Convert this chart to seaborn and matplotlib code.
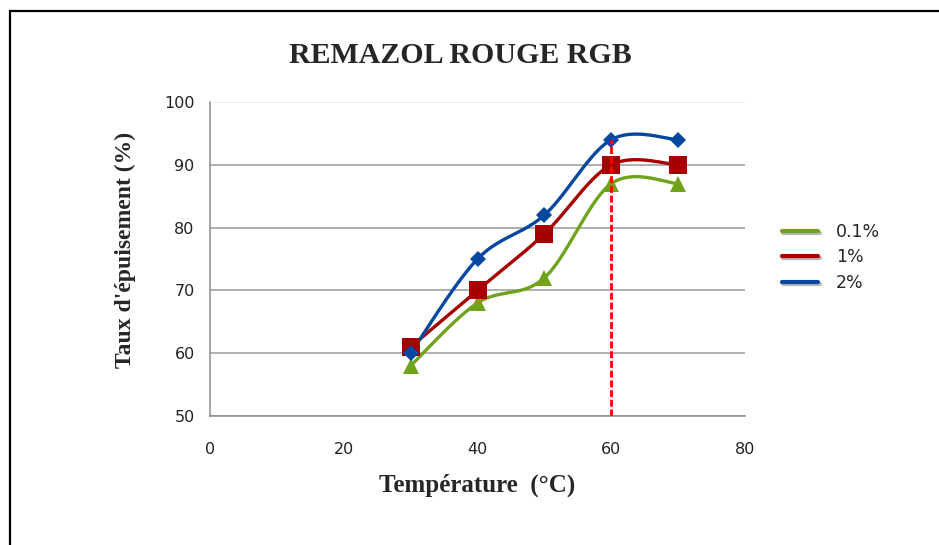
import numpy as np
import pandas as pd
import matplotlib
matplotlib.use("Agg")
import matplotlib.pyplot as plt
import matplotlib.patheffects as pe
from matplotlib.lines import Line2D
from matplotlib.patches import Rectangle
import seaborn as sns

# Data
temperature = [30, 40, 50, 60, 70]
series_names = ["0.1%", "1%", "2%"]
taux_01 = [58, 68, 72, 87, 87]
taux_1 = [61, 70, 79, 90, 90]
taux_2 = [60, 75, 82, 94, 94]
x_ticks = [0, 20, 40, 60, 80]
y_ticks = [50, 60, 70, 80, 90, 100]
ref_temp = 60

colors = {"0.1%": "#6FA31C", "1%": "#A60000", "2%": "#0347A1"}
markers = {"0.1%": ("^", 12), "1%": ("s", 13), "2%": ("D", 8.5)}
values = {"0.1%": taux_01, "1%": taux_1, "2%": taux_2}


def smooth_curve(xs, ys, n=40):
    # Excel-like smoothed line (Catmull-Rom as cubic Bezier)
    pts = np.column_stack([xs, ys]).astype(float)
    out = []
    for i in range(len(pts) - 1):
        p0 = pts[i - 1] if i > 0 else pts[i]
        p1, p2 = pts[i], pts[i + 1]
        p3 = pts[i + 2] if i + 2 < len(pts) else pts[i + 1]
        c1 = p1 + (p2 - p0) / 6
        c2 = p2 - (p3 - p1) / 6
        t = np.linspace(0, 1, n)[:, None]
        seg = ((1 - t) ** 3) * p1 + 3 * ((1 - t) ** 2) * t * c1 + 3 * (1 - t) * t ** 2 * c2 + t ** 3 * p2
        out.append(seg if i == 0 else seg[1:])
    seg = np.vstack(out)
    return seg[:, 0], seg[:, 1]


sns.set_style("white")
plt.rcParams["font.family"] = ["DejaVu Sans"]

fig = plt.figure(figsize=(9.39, 5.45), dpi=100)
ax = fig.add_axes([210 / 939, 1 - 416 / 545, 535 / 939, 314 / 545])

# outer frame
fig.patches.append(Rectangle((10 / 939, -0.1), 1.2, 1 - 11 / 545 + 0.1, transform=fig.transFigure,
                             fill=False, edgecolor="black", linewidth=1.6))

for name in series_names:
    sx, sy = smooth_curve(temperature, values[name])
    df = pd.DataFrame({"x": sx, "y": sy})
    sns.lineplot(data=df, x="x", y="y", sort=False, color=colors[name], linewidth=2.4, ax=ax, zorder=3)
    m, ms = markers[name]
    ax.plot(temperature, values[name], linestyle="none", marker=m, markersize=ms,
            color=colors[name], markeredgewidth=0, zorder=4)

ax.vlines(ref_temp, 50, max(taux_2), colors="#FF0000", linestyles=(0, (2.5, 1)), linewidth=2, zorder=5)

ax.set_xlim(0, 80)
ax.set_ylim(50, 100)
ax.set_xticks(x_ticks)
ax.set_yticks(y_ticks)
ax.yaxis.grid(True, color="#9A9A9A", linewidth=1.1)
ax.xaxis.grid(False)
gl = ax.get_ygridlines()
gl[-1].set_color("#E3EAF5")
for s in ["top", "right"]:
    ax.spines[s].set_visible(False)
for s in ["left", "bottom"]:
    ax.spines[s].set_color("#8C8C8C")
    ax.spines[s].set_linewidth(1.1)
ax.tick_params(axis="both", direction="out", length=5, width=1, color="#8C8C8C",
               labelsize=11.5, labelcolor="#222222", pad=6)
ax.tick_params(axis="x", pad=14)

serif = ["Liberation Serif", "DejaVu Serif"]
ax.set_xlabel("Température  (°C)", family=serif, fontweight="bold", fontsize=18, labelpad=12)
ax.set_ylabel("Taux d'épuisement (%)", family=serif, fontweight="bold", fontsize=17)
ax.yaxis.set_label_coords(-0.138, 0.53)
fig.text(460 / 939, 1 - 55 / 545, "REMAZOL ROUGE RGB", family=serif, fontweight="bold",
         fontsize=21.5, ha="center", va="center")

shadow = [pe.SimpleLineShadow(offset=(1, -1.5), shadow_color="#888888", alpha=0.6), pe.Normal()]
handles = [Line2D([], [], color=colors[n], linewidth=3, path_effects=shadow) for n in series_names]
ax.legend(handles, series_names, loc="center left", bbox_to_anchor=(1.04, 0.505), frameon=False,
          fontsize=12.5, handlelength=2.1, handletextpad=1.0, labelspacing=0.45)

fig.savefig("out.png", dpi=100)
